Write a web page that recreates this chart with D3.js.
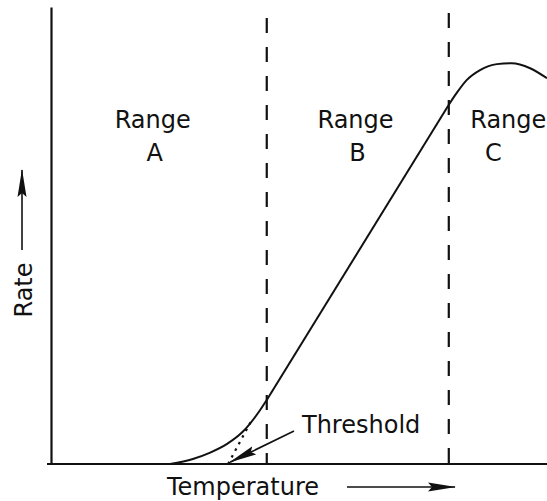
<!DOCTYPE html>
<html>
<head>
<meta charset="utf-8">
<script src="https://cdn.jsdelivr.net/npm/d3@7"></script>
<style>
  body { margin: 0; background: #fff; }
  svg { display: block; }
  text { font-family: "DejaVu Sans", sans-serif; font-size: 24px; fill: #111; }
</style>
</head>
<body>
<svg width="547" height="501"></svg>
<script>
// values (temperature 0-100, rate 0-100, arbitrary units)
// range A: curved rise, range B: straight line, range C: rounded top
var lowerT = [24.0, 28.6, 32.1, 35.5, 38.7, 42.1, 43.5],
    lowerR = [0, 1.1, 2.5, 4.4, 7.1, 11.7, 14.0];
var linearT = [43.5, 80.2],
    linearR = [14.0, 78.6];
var upperT = [80.2, 81.8, 83.8, 86.5, 89.9, 92.9, 96.6, 100],
    upperR = [78.6, 81.2, 84.0, 86.2, 87.5, 87.7, 86.6, 84.4];

var boundaries = [43.5, 80.2],
    boundaryTop = [97.6, 98.7];
var thresholdT = 35.7,
    dottedEnd = [40.7, 10.1];

var rangeNames = ["A", "B", "C"],
    rangeWordT = [20.5, 61.4, 92.2],
    rangeLetterT = [20.9, 61.8, 89.2];

var svg = d3.select("svg");

var x = d3.scaleLinear().domain([0, 100]).range([51, 547]),
    y = d3.scaleLinear().domain([0, 100]).range([464, 7]);

var zip = function(a, b) { return a.map(function(d, i) { return [d, b[i]]; }); };

var line = d3.line()
    .x(function(d) { return x(d[0]); })
    .y(function(d) { return y(d[1]); });

var smooth = d3.line()
    .curve(d3.curveMonotoneX)
    .x(function(d) { return x(d[0]); })
    .y(function(d) { return y(d[1]); });

var defs = svg.append("defs");
defs.append("marker")
    .attr("id", "head")
    .attr("markerUnits", "userSpaceOnUse")
    .attr("viewBox", "0 -5 28 10")
    .attr("refX", 27)
    .attr("refY", 0)
    .attr("markerWidth", 28)
    .attr("markerHeight", 10)
    .attr("orient", "auto")
  .append("path")
    .attr("d", "M0,-4.5L28,0L0,4.5L4,0Z")
    .attr("fill", "#111");

// axes, no ticks
svg.append("g")
    .attr("transform", "translate(0," + y(0) + ")")
    .call(d3.axisBottom(x).tickValues([]).tickSizeOuter(0))
    .call(function(g) { g.select(".domain").attr("stroke", "#111").attr("stroke-width", 2.2).attr("d", "M47,0H547"); });

svg.append("g")
    .attr("transform", "translate(" + x(0) + ",0)")
    .call(d3.axisLeft(y).tickValues([]).tickSizeOuter(0))
    .call(function(g) { g.select(".domain").attr("stroke", "#111").attr("stroke-width", 2.2); });

// range boundaries
svg.selectAll(".boundary")
    .data(boundaries)
  .enter().append("line")
    .attr("class", "boundary")
    .attr("x1", function(d) { return x(d); })
    .attr("x2", function(d) { return x(d); })
    .attr("y1", function(d, i) { return y(boundaryTop[i]); })
    .attr("y2", y(0))
    .attr("stroke", "#111")
    .attr("stroke-width", 2.2)
    .attr("stroke-dasharray", "15,14");

// rate curve, in three pieces
svg.append("path")
    .attr("d", smooth(zip(lowerT, lowerR)))
    .attr("fill", "none").attr("stroke", "#111").attr("stroke-width", 2);
svg.append("path")
    .attr("d", line(zip(linearT, linearR)))
    .attr("fill", "none").attr("stroke", "#111").attr("stroke-width", 2);
svg.append("path")
    .attr("d", smooth(zip(upperT, upperR)))
    .attr("fill", "none").attr("stroke", "#111").attr("stroke-width", 2);

// extrapolated line to the threshold
svg.append("path")
    .attr("d", line([[thresholdT, 0], dottedEnd]))
    .attr("fill", "none").attr("stroke", "#111").attr("stroke-width", 2.2)
    .attr("stroke-dasharray", "2.5,5");

// threshold pointer
svg.append("line")
    .attr("x1", 294).attr("y1", 431)
    .attr("x2", x(thresholdT + 0.4)).attr("y2", y(0.4))
    .attr("stroke", "#111").attr("stroke-width", 1.6)
    .attr("marker-end", "url(#head)");
svg.append("text").attr("x", 302).attr("y", 433).text("Threshold");

// range labels
var labels = svg.selectAll(".range")
    .data(rangeNames)
  .enter().append("g")
    .attr("class", "range");
labels.append("text")
    .attr("x", function(d, i) { return x(rangeWordT[i]); })
    .attr("y", 128)
    .attr("text-anchor", "middle")
    .text("Range");
labels.append("text")
    .attr("x", function(d, i) { return x(rangeLetterT[i]); })
    .attr("y", 161)
    .attr("text-anchor", "middle")
    .text(function(d) { return d; });

// axis titles with arrows
svg.append("text").attr("x", 167).attr("y", 495).text("Temperature");
svg.append("line")
    .attr("x1", 347).attr("y1", 487).attr("x2", 455).attr("y2", 487)
    .attr("stroke", "#111").attr("stroke-width", 1.6)
    .attr("marker-end", "url(#head)");

svg.append("text")
    .attr("transform", "translate(32,290) rotate(-90)")
    .attr("text-anchor", "middle")
    .text("Rate");
svg.append("line")
    .attr("x1", 22).attr("y1", 250).attr("x2", 22).attr("y2", 170)
    .attr("stroke", "#111").attr("stroke-width", 1.6)
    .attr("marker-end", "url(#head)");
</script>
</body>
</html>
